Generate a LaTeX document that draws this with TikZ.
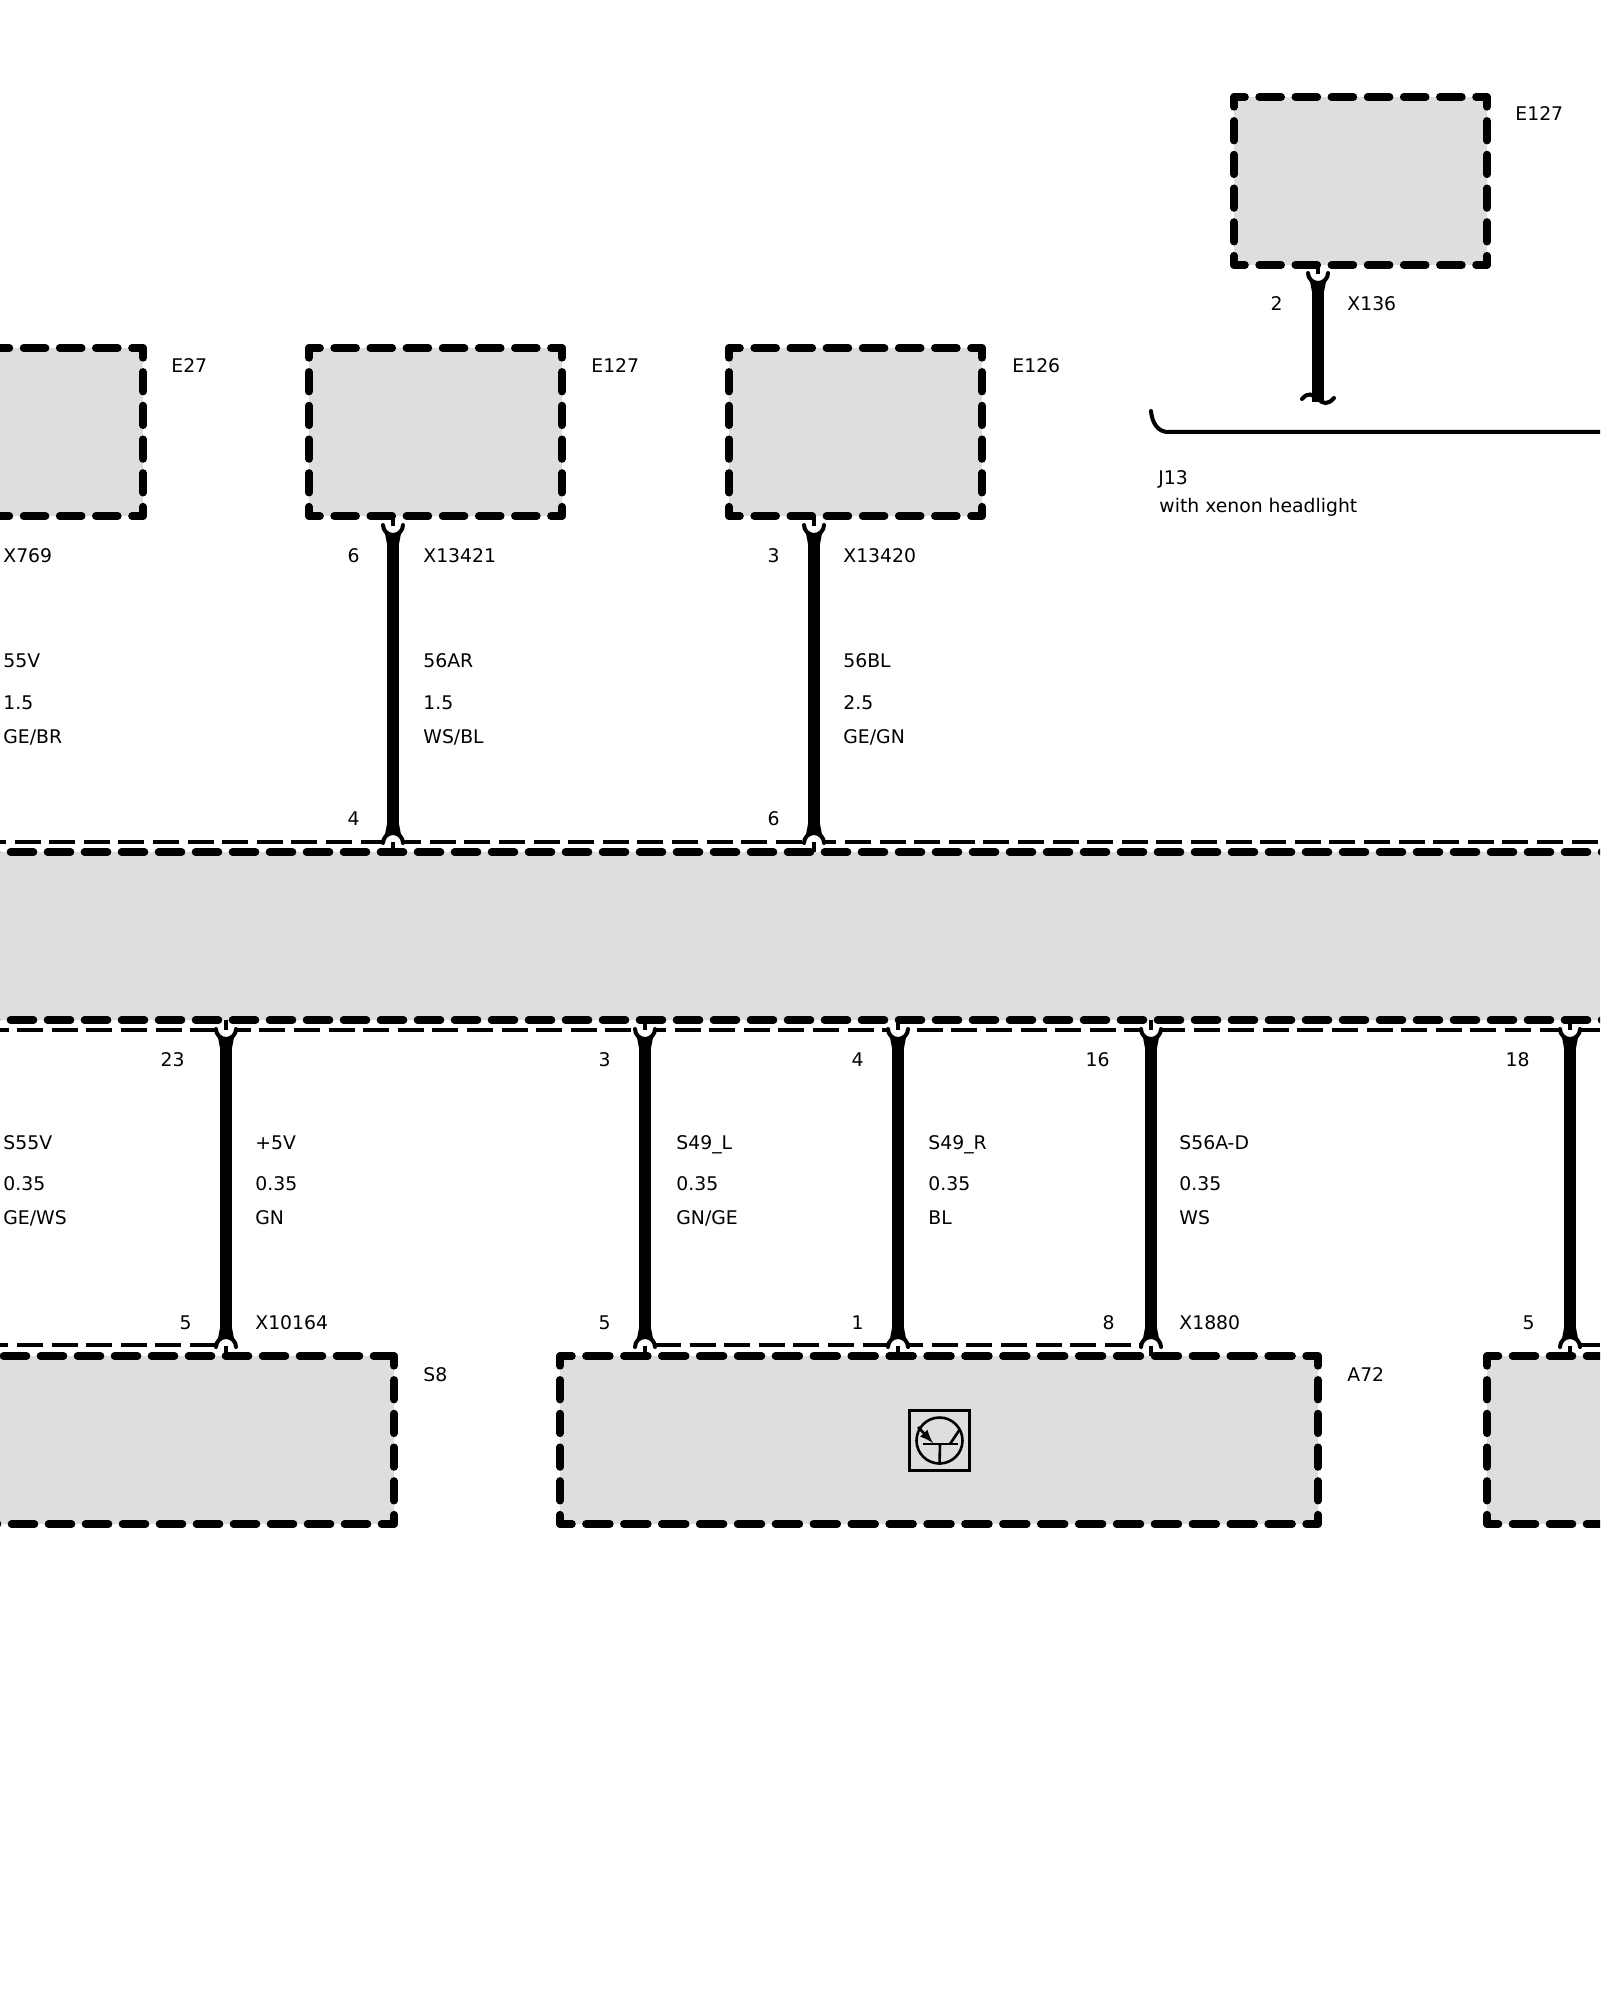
\documentclass[tikz,border=0pt]{standalone}
\usepackage{fontspec}
\setmainfont{DejaVu Sans}
\usetikzlibrary{arrows}
\definecolor{box_grey}{HTML}{DEDEDE}

\begin{document}
\begin{tikzpicture}[
	    x=0.5pt, y=-0.5pt,
	    compbox/.style={rectangle, anchor=north west, fill=box_grey, inner sep=0, outer sep=0, minimum height=84pt},
	    smallbox/.style={compbox, minimum width=126.5pt},
	    widebox/.style={compbox, minimum width=379pt},
	    edge/.style={line width=3.8pt, line cap=round},
	    smalledge/.style={edge, dash pattern=on 11pt off 7.07pt, dash phase=5.5pt},
	    talledge/.style={edge, dash pattern=on 9.85pt off 7pt, dash phase=4.92pt},
	    wideedge/.style={edge, dash pattern=on 11.95pt off 7pt, dash phase=5.97pt},
	    longedge/.style={edge, dash pattern=on 11.5pt off 7pt},
	    thinrun/.style={line width=1.6pt, dash pattern=on 13pt off 4.3pt},
	    wire/.style={line width=6pt, shorten <=10pt, shorten >=10pt},
	    thinline/.style={line width=2pt, line cap=round},
	    symbolline/.style={line width=1.3pt},
	    lbl/.style={anchor=base west, inner sep=0, font=\fontsize{9.4}{11}\selectfont},
	    pinlbl/.style={lbl, anchor=base east},
	    forkpin/.pic={
	        \fill[white] (-10,6) -- (-10,9) .. controls (-10,14.5) and (-5.5,19) .. (0,19) .. controls (5.5,19) and (10,14.5) .. (10,9) -- (10,6) -- cycle;
	        \fill (-6,28) -- (-8,17.5) -- (8,17.5) -- (6,28) -- cycle;
	        \draw[thinline] (-10,9) .. controls (-10,14.5) and (-5.5,19) .. (0,19) .. controls (5.5,19) and (10,14.5) .. (10,9);
	        \draw[line width=2pt] (0,0) -- (0,10);
	    },
	]
	\useasboundingbox (0,0) rectangle (1600,2000);
	\clip (0,0) rectangle (1600,2000);

	\def \boxedges #1#2#3{
	    \draw [#2] (#1.north west) -- (#1.north east);
	    \draw [#2] (#1.south west) -- (#1.south east);
	    \draw [#3] (#1.north west) -- (#1.south west);
	    \draw [#3] (#1.north east) -- (#1.south east);
	}

	% Upper row of components
	\node[smallbox] (e127top) at (1234,97) {};
	\node[smallbox] (e27) at (-110,348) {};
	\node[smallbox] (e127) at (309,348) {};
	\node[smallbox] (e126) at (729,348) {};
	\boxedges{e127top}{smalledge}{talledge}
	\boxedges{e27}{smalledge}{talledge}
	\boxedges{e127}{smalledge}{talledge}
	\boxedges{e126}{smalledge}{talledge}

	% Control unit bar
	\node[compbox, minimum width=850pt] (bus) at (-26.5,852) {};
	\draw [longedge] (bus.north west) -- (bus.north east);
	\draw [longedge] (bus.south west) -- (bus.south east);
	\coordinate (bustopa) at (-20,842);
	\coordinate (bustopb) at (1600,842);
	\coordinate (busbota) at (-17.5,1030);
	\coordinate (busbotb) at (1600,1030);
	\draw [thinrun] (bustopa) -- (bustopb);
	\draw [thinrun] (busbota) -- (busbotb);

	% Lower row of components
	\node[compbox, minimum width=217pt] (s8) at (-40,1356) {};
	\node[widebox] (a72) at (560,1356) {};
	\node[widebox] (right) at (1487,1356) {};
	\draw [longedge, dash phase=15.25pt] (s8.north west) -- (s8.north east);
	\draw [longedge, dash phase=11.25pt] (s8.south west) -- (s8.south east);
	\draw [talledge] (s8.north east) -- (s8.south east);
	\boxedges{a72}{wideedge}{talledge}
	\boxedges{right}{longedge, dash phase=5.75pt}{talledge}

	\coordinate (s8runa) at (-17.6,1345);
	\coordinate (s8runb) at (216,1345);
	\coordinate (a72runa) at (655,1345);
	\coordinate (a72runb) at (1141,1345);
	\coordinate (rightruna) at (1580,1345);
	\coordinate (rightrunb) at (1600,1345);
	\draw [thinrun] (s8runa) -- (s8runb);
	\draw [thinrun] (a72runa) -- (a72runb);
	\draw [thinrun] (rightruna) -- (rightrunb);

	% Transistor symbol
	\node[rectangle, draw, line width=1.5pt, fill=box_grey, minimum size=30pt, inner sep=0] (sensor) at (939.5,1440.5) {};
	\node[circle, draw, symbolline, minimum size=23pt, inner sep=0] (sensorring) at (sensor) {};
	\coordinate (sensorbase) at (940,1444);
	\coordinate (sensorleft) at (923,1444);
	\coordinate (sensorright) at (958,1444);
	\coordinate (sensoremit) at (918,1427);
	\coordinate (sensoremitend) at (933,1443);
	\coordinate (sensorcoll) at (960,1429);
	\coordinate (sensorcollend) at (950,1444);
	\draw [symbolline] (sensorleft) -- (sensorright);
	\draw [symbolline] (sensorbase) -- (sensorring.south);
	\draw [symbolline] (sensorcollend) -- (sensorcoll);
	\draw [symbolline, -latex] (sensoremit) -- (sensoremitend);

	% Wires, upper
	\coordinate (e127pin) at (1318,264);
	\coordinate (j13pin) at (1318,402);
	\coordinate (e127wire) at (393,516);
	\coordinate (bus4) at (393,852);
	\coordinate (e126wire) at (814,516);
	\coordinate (bus6) at (814,852);
	\pic at (e127pin) {forkpin};
	\pic at (e127wire) {forkpin};
	\pic at (e126wire) {forkpin};
	\pic[yscale=-1] at (bus4) {forkpin};
	\pic[yscale=-1] at (bus6) {forkpin};
	\draw [wire, shorten >=0pt] (e127pin) -- (j13pin);
	\draw [wire] (e127wire) -- (bus4);
	\draw [wire] (e126wire) -- (bus6);

	% Wires, lower
	\coordinate (bus23) at (226,1020);
	\coordinate (s8pin) at (226,1356);
	\coordinate (bus3) at (645,1020);
	\coordinate (a72pin5) at (645,1356);
	\coordinate (bus4b) at (898,1020);
	\coordinate (a72pin1) at (898,1356);
	\coordinate (bus16) at (1151,1020);
	\coordinate (a72pin8) at (1151,1356);
	\coordinate (bus18) at (1570,1020);
	\coordinate (rightpin) at (1570,1356);
	\pic at (bus23) {forkpin};
	\pic at (bus3) {forkpin};
	\pic at (bus4b) {forkpin};
	\pic at (bus16) {forkpin};
	\pic at (bus18) {forkpin};
	\pic[yscale=-1] at (s8pin) {forkpin};
	\pic[yscale=-1] at (a72pin5) {forkpin};
	\pic[yscale=-1] at (a72pin1) {forkpin};
	\pic[yscale=-1] at (a72pin8) {forkpin};
	\pic[yscale=-1] at (rightpin) {forkpin};
	\draw [wire] (bus23) -- (s8pin);
	\draw [wire] (bus3) -- (a72pin5);
	\draw [wire] (bus4b) -- (a72pin1);
	\draw [wire] (bus16) -- (a72pin8);
	\draw [wire] (bus18) -- (rightpin);

	% J13 bracket
	\coordinate (j13a) at (1151,411);
	\coordinate (j13b) at (1600,432);
	\draw [thinline] (j13a) .. controls (1152,423) and (1158,432) .. (1168,432) -- (j13b);
	\draw [thinline] (1302,399) .. controls (1308,392) and (1312,394) .. (1318,399) .. controls (1323,404) and (1328,405) .. (1334,398);

	% Labels, upper
	\node[lbl] (e127toplabel) at (1515,121) {E127};
	\node[lbl] (x136) at (1347,311) {X136};
	\node[pinlbl] (pin2) at (1283,311) {2};
	\node[lbl] (j13) at (1158,485) {J13};
	\node[lbl] (xenon) at (1159,512) {with xenon headlight};

	\node[lbl] (e27label) at (171,373) {E27};
	\node[lbl] (x769) at (3,562) {X769};
	\node[lbl] (w55v) at (3,667) {55V};
	\node[lbl] (w55vsize) at (3,709) {1.5};
	\node[lbl] (w55vcol) at (3,743) {GE/BR};

	\node[lbl] (e127label) at (591,373) {E127};
	\node[pinlbl] (pin6) at (360,562) {6};
	\node[lbl] (x13421) at (423,562) {X13421};
	\node[lbl] (w56ar) at (423,667) {56AR};
	\node[lbl] (w56arsize) at (423,709) {1.5};
	\node[lbl] (w56arcol) at (423,743) {WS/BL};
	\node[pinlbl] (pin4) at (360,825) {4};

	\node[lbl] (e126label) at (1012,373) {E126};
	\node[pinlbl] (pin3) at (780,562) {3};
	\node[lbl] (x13420) at (843,562) {X13420};
	\node[lbl] (w56bl) at (843,667) {56BL};
	\node[lbl] (w56blsize) at (843,709) {2.5};
	\node[lbl] (w56blcol) at (843,743) {GE/GN};
	\node[pinlbl] (pin6b) at (780,825) {6};

	% Labels, lower
	\node[lbl] (ws55v) at (3,1149) {S55V};
	\node[lbl] (ws55vsize) at (3,1190) {0.35};
	\node[lbl] (ws55vcol) at (3,1224) {GE/WS};

	\node[pinlbl] (pin23) at (185,1066) {23};
	\node[lbl] (w5v) at (255,1149) {+5V};
	\node[lbl] (w5vsize) at (255,1190) {0.35};
	\node[lbl] (w5vcol) at (255,1224) {GN};
	\node[pinlbl] (pin5) at (192,1329) {5};
	\node[lbl] (x10164) at (255,1329) {X10164};
	\node[lbl] (s8label) at (423,1381) {S8};

	\node[pinlbl] (pin3b) at (611,1066) {3};
	\node[lbl] (ws49l) at (676,1149) {S49\_L};
	\node[lbl] (ws49lsize) at (676,1190) {0.35};
	\node[lbl] (ws49lcol) at (676,1224) {GN/GE};
	\node[pinlbl] (pin5b) at (611,1329) {5};

	\node[pinlbl] (pin4b) at (864,1066) {4};
	\node[lbl] (ws49r) at (928,1149) {S49\_R};
	\node[lbl] (ws49rsize) at (928,1190) {0.35};
	\node[lbl] (ws49rcol) at (928,1224) {BL};
	\node[pinlbl] (pin1) at (864,1329) {1};

	\node[pinlbl] (pin16) at (1110,1066) {16};
	\node[lbl] (ws56a) at (1179,1149) {S56A-D};
	\node[lbl] (ws56asize) at (1179,1190) {0.35};
	\node[lbl] (ws56acol) at (1179,1224) {WS};
	\node[pinlbl] (pin8) at (1115,1329) {8};
	\node[lbl] (x1880) at (1179,1329) {X1880};
	\node[lbl] (a72label) at (1347,1381) {A72};

	\node[pinlbl] (pin18) at (1530,1066) {18};
	\node[pinlbl] (pin5c) at (1535,1329) {5};

\end{tikzpicture}
\end{document}
